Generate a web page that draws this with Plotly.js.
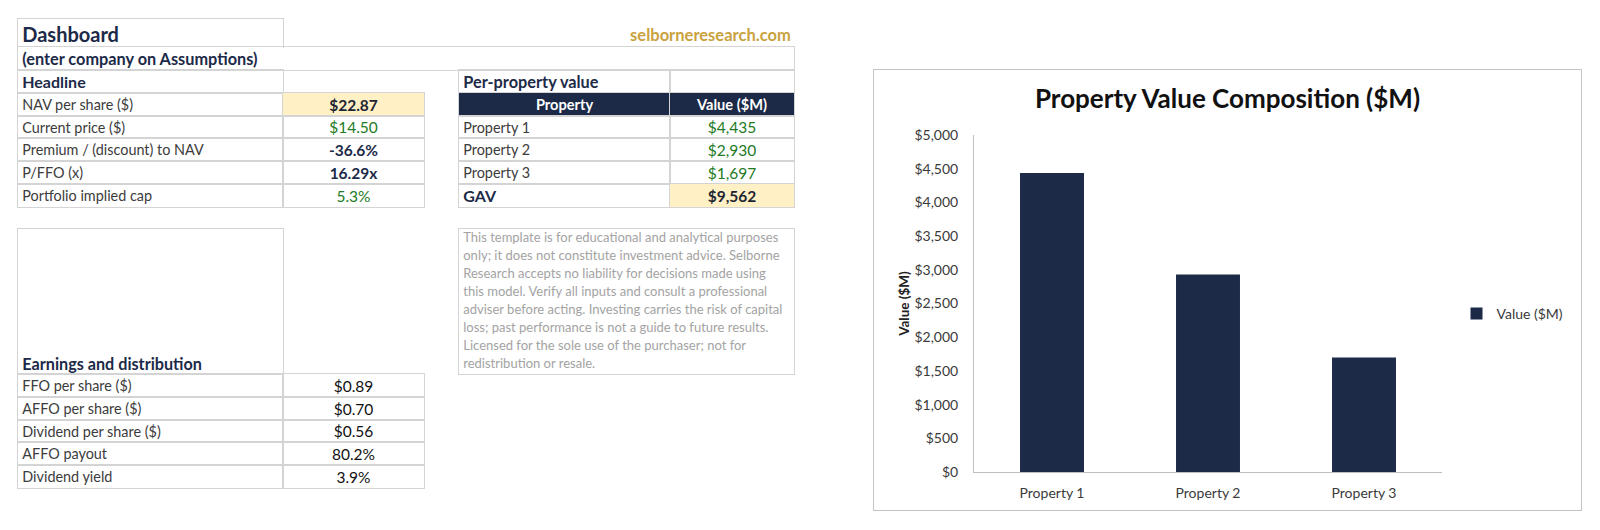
<!DOCTYPE html>
<html>
<head>
<meta charset="utf-8">
<script src="https://cdn.plot.ly/plotly-3.0.1.min.js"></script>
<style>
  body { margin: 0; background: #ffffff; width: 1600px; height: 530px; position: relative; overflow: hidden;
         font-family: Lato, "Open Sans", sans-serif; }
  .cell { position: absolute; box-sizing: border-box; display: flex; align-items: center;
          white-space: nowrap; overflow: hidden; font-size: 14.4px; color: #3c3c3c; }
  #chart { position: absolute; left: 873px; top: 69px; width: 709px; height: 442px;
           box-sizing: border-box; border: 1px solid #c4c4c4; }
</style>
</head>
<body>
<div id="sheet"></div>
<div id="chart"></div>
<script>
// headline block
const headlineLabels = ["NAV per share ($)", "Current price ($)", "Premium / (discount) to NAV", "P/FFO (x)", "Portfolio implied cap"];
const headlineValues = ["$22.87", "$14.50", "-36.6%", "16.29x", "5.3%"];
const headlineStyles = ["key", "input", "bold", "bold", "input"];

// per-property block
const propertyNames = ["Property 1", "Property 2", "Property 3"];
const propertyValues = [4435, 2930, 1697];
const gavValue = 9562;

// earnings block
const earningsLabels = ["FFO per share ($)", "AFFO per share ($)", "Dividend per share ($)", "AFFO payout", "Dividend yield"];
const earningsValues = ["$0.89", "$0.70", "$0.56", "80.2%", "3.9%"];

const disclaimer = "This template is for educational and analytical purposes only; it does not constitute investment advice. Selborne Research accepts no liability for decisions made using this model. Verify all inputs and consult a professional adviser before acting. Investing carries the risk of capital loss; past performance is not a guide to future results. Licensed for the sole use of the purchaser; not for redistribution or resale.";

const NAVY = "#1c2a48";
const GREEN = "#237a23";
const KEYFILL = "#fff0c6";
const LINE = "1.5px solid #d4d4d4";

const sheet = document.getElementById("sheet");

function cell(x0, y0, x1, y1, text, o = {}) {
  const d = document.createElement("div");
  d.className = "cell";
  // centre borders on the grid lines so neighbours share them
  d.style.left = (x0 - 0.75) + "px";
  d.style.top = (y0 - 0.75) + "px";
  d.style.width = (x1 - x0 + 1.5) + "px";
  d.style.height = (y1 - y0 + 1.5) + "px";
  const sides = o.sides === undefined ? "trbl" : o.sides;
  if (sides.includes("t")) d.style.borderTop = LINE;
  if (sides.includes("r")) d.style.borderRight = LINE;
  if (sides.includes("b")) d.style.borderBottom = LINE;
  if (sides.includes("l")) d.style.borderLeft = LINE;
  if (o.fill) d.style.background = o.fill;
  if (o.color) d.style.color = o.color;
  if (o.bold) d.style.fontWeight = "700";
  if (o.size) d.style.fontSize = o.size + "px";
  d.style.justifyContent = o.align === "center" ? "center" : (o.align === "right" ? "flex-end" : "flex-start");
  if (o.valign === "bottom") d.style.alignItems = "flex-end";
  d.style.padding = o.pad || "0 4px";
  if (o.wrap) { d.style.whiteSpace = "normal"; d.style.display = "block"; }
  if (o.lh) d.style.lineHeight = o.lh + "px";
  d.textContent = text;
  sheet.appendChild(d);
  return d;
}

const fmtMoney = (v) => "$" + v.toLocaleString("en-US");

// top rows
cell(18, 19, 283, 47, "Dashboard", { bold: true, size: 20, color: NAVY, sides: "trl" });
cell(460, 19, 790, 47, "selborneresearch.com", { bold: true, size: 16.5, color: "#c9a23e", sides: "", align: "right", pad: "4px 0 0 0" });
cell(18, 47, 794, 70, "(enter company on Assumptions)", { bold: true, size: 16.3, color: NAVY });
cell(18, 70, 283, 93, "Headline", { bold: true, size: 16, color: NAVY });

// headline table
const rowY = [93, 116, 138, 161, 184, 207];
headlineLabels.forEach((lab, i) => {
  cell(18, rowY[i], 283, rowY[i + 1], lab);
  const st = headlineStyles[i];
  const o = { align: "center", size: 15.5 };
  if (st === "key") { o.bold = true; o.fill = KEYFILL; o.color = "#1e2532"; }
  if (st === "input") { o.color = GREEN; }
  if (st === "bold") { o.bold = true; o.color = NAVY; }
  cell(283, rowY[i], 424, rowY[i + 1], headlineValues[i], o);
});

// per-property table
cell(459, 70, 670, 93, "Per-property value", { bold: true, size: 16.3, color: NAVY });
cell(670, 70, 794, 93, "");
cell(459, 93, 670, 116, "Property", { bold: true, size: 14.6, color: "#ffffff", fill: NAVY, align: "center" });
cell(670, 93, 794, 116, "Value ($M)", { bold: true, size: 14.6, color: "#ffffff", fill: NAVY, align: "center" });
propertyNames.forEach((n, i) => {
  cell(459, rowY[i + 1], 670, rowY[i + 2], n);
  cell(670, rowY[i + 1], 794, rowY[i + 2], fmtMoney(propertyValues[i]), { color: GREEN, align: "center", size: 15.5 });
});
cell(459, 184, 670, 207, "GAV", { bold: true, size: 16, color: NAVY });
cell(670, 184, 794, 207, fmtMoney(gavValue), { bold: true, size: 15.5, color: "#1e2532", fill: KEYFILL, align: "center" });

// earnings block
cell(18, 229, 283, 374, "Earnings and distribution", { bold: true, size: 16.2, color: NAVY, valign: "bottom", pad: "0 4px 1px 4px" });
const earnY = [374, 397, 420, 442, 465, 488];
earningsLabels.forEach((lab, i) => {
  cell(18, earnY[i], 283, earnY[i + 1], lab);
  cell(283, earnY[i], 424, earnY[i + 1], earningsValues[i], { align: "center", color: "#111111", size: 15.5 });
});

// disclaimer
cell(459, 229, 794, 374, disclaimer, { wrap: true, size: 13, lh: 17.9, color: "#a3a3a3", pad: "0 4px" });

// chart
const trace = {
  type: "bar",
  x: propertyNames,
  y: propertyValues,
  name: "Value ($M)",
  marker: { color: NAVY, line: { width: 0 } },
  hovertemplate: "%{x}: $%{y:,}<extra></extra>",
};

const layout = {
  title: {
    text: "<b>Property Value Composition ($M)</b>",
    font: { family: "Lato, sans-serif", size: 26, color: "#111111" },
    xref: "container", x: 0.5, xanchor: "center",
    yref: "container", y: 0.934, yanchor: "middle",
  },
  width: 707,
  height: 440,
  margin: { l: 100, r: 123, t: 65, b: 38 },
  paper_bgcolor: "#ffffff",
  plot_bgcolor: "#ffffff",
  font: { family: "Lato, sans-serif", size: 14, color: "#3a3a3a" },
  bargap: 0.59,
  showlegend: true,
  legend: {
    x: 1.031, xanchor: "left", y: 0.469, yanchor: "middle",
    font: { family: "Lato, sans-serif", size: 14, color: "#3a3a3a" },
    itemwidth: 30,
  },
  xaxis: {
    showline: true, linecolor: "#bfbfbf", linewidth: 1,
    ticks: "outside", ticklen: 8, tickcolor: "rgba(0,0,0,0)",
    tickfont: { size: 14, color: "#3a3a3a" },
    showgrid: false, fixedrange: true,
  },
  yaxis: {
    range: [0, 5000], dtick: 500, tickprefix: "$", tickformat: ",d",
    showline: true, linecolor: "#bfbfbf", linewidth: 1,
    ticks: "outside", ticklen: 12, tickcolor: "rgba(0,0,0,0)",
    tickfont: { size: 14, color: "#3a3a3a" },
    showgrid: false, zeroline: false, fixedrange: true,
    automargin: false,
    title: { text: "<b>Value ($M)</b>", font: { size: 13.5, color: "#222222" }, standoff: 1 },
  },
};

Plotly.newPlot("chart", [trace], layout, { displayModeBar: false, staticPlot: true });
</script>
</body>
</html>
